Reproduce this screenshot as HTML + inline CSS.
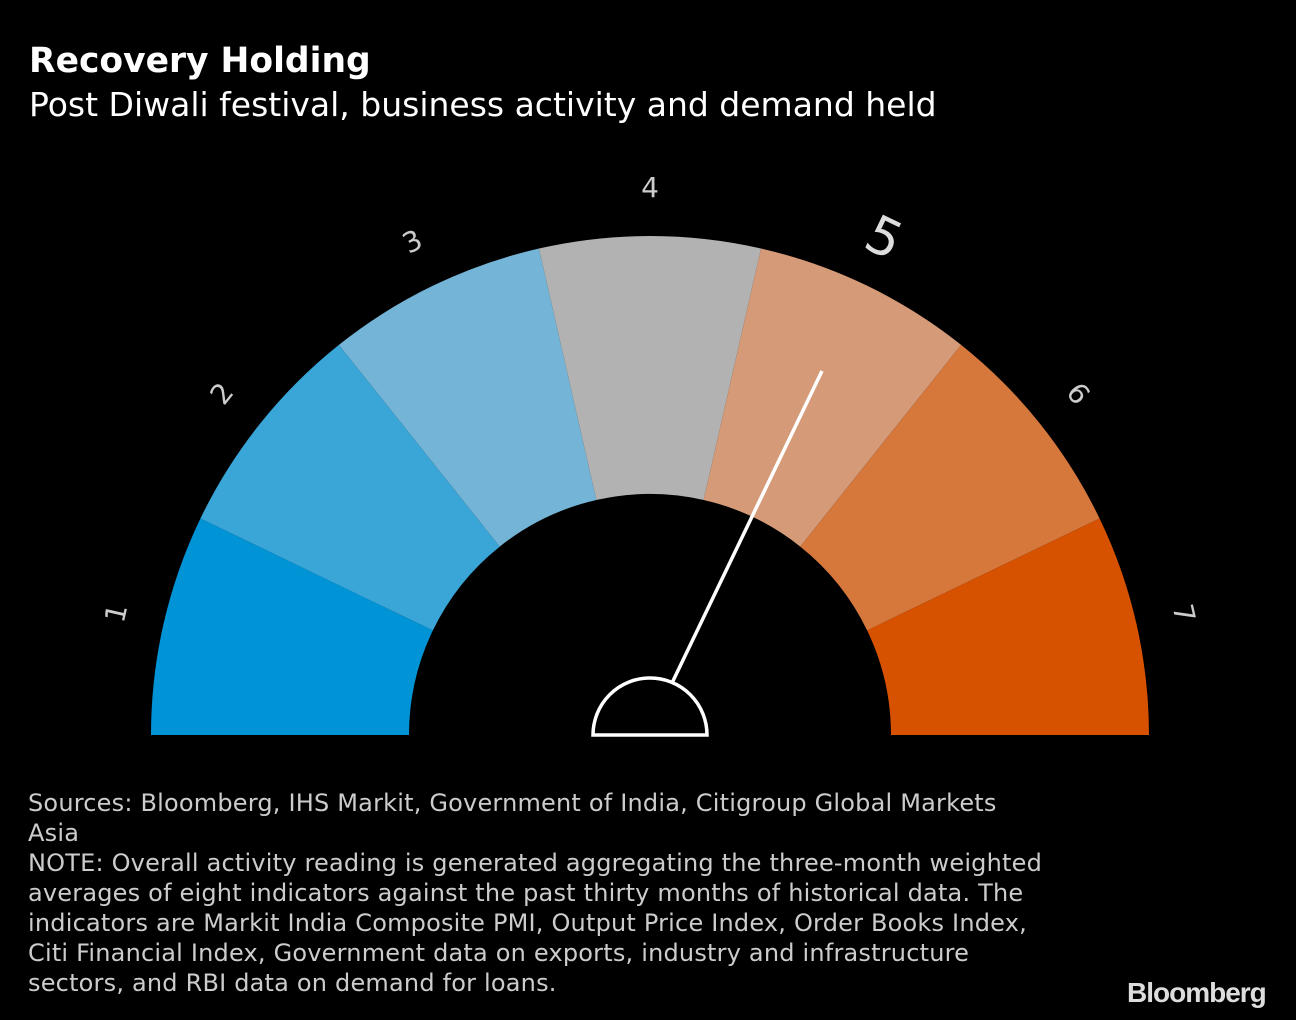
<!DOCTYPE html>
<html><head><meta charset="utf-8"><style>
html,body{margin:0;padding:0;background:#000;}
body{width:1296px;height:1020px;position:relative;overflow:hidden;font-family:"DejaVu Sans","Liberation Sans",sans-serif;color:#fff;}
.t{position:absolute;left:29px;top:41px;font-size:34.5px;font-weight:bold;font-family:"DejaVu Sans",sans-serif;}
.s{position:absolute;left:29px;top:85px;font-size:33px;}
.f{position:absolute;left:28px;top:788px;font-size:24px;line-height:30px;color:#ccc;white-space:nowrap;letter-spacing:0.2px;}
.b{position:absolute;left:1127px;top:977px;font-size:28px;font-weight:bold;color:#ddd;font-family:"Liberation Sans",sans-serif;letter-spacing:-1px;}
</style></head><body>
<div class="t">Recovery Holding</div>
<div class="s">Post Diwali festival, business activity and demand held</div>
<svg width="1296" height="1020" style="position:absolute;left:0;top:0">
<defs><path id="seg" d="M151,735 A499,499 0 0 1 200.42,518.49 L432.87,630.43 A241,241 0 0 0 409,735 Z"/></defs>
<use href="#seg" fill="#0093d6"/>
<use href="#seg" fill="#3aa5d7" transform="rotate(25.714 650 735)"/>
<use href="#seg" fill="#74b4d6" transform="rotate(51.429 650 735)"/>
<use href="#seg" fill="#b2b2b2" transform="rotate(77.143 650 735)"/>
<use href="#seg" fill="#d59a77" transform="rotate(102.857 650 735)"/>
<use href="#seg" fill="#d6773c" transform="rotate(128.571 650 735)"/>
<use href="#seg" fill="#d65200" transform="rotate(154.286 650 735)"/>
<g fill="#ccc" font-size="28" text-anchor="middle">
<text x="650" y="197" transform="rotate(-77.143 650 735)">1</text>
<text x="650" y="197" transform="rotate(-51.429 650 735)">2</text>
<text x="650" y="197" transform="rotate(-25.714 650 735)">3</text>
<text x="650" y="197">4</text>
<text x="645" y="203" font-size="52" fill="#ddd" transform="rotate(25.714 650 735)">5</text>
<text x="650" y="197" transform="rotate(51.429 650 735)">6</text>
<text x="650" y="197" transform="rotate(77.143 650 735)">7</text>
</g>
<line x1="672" y1="683" x2="822" y2="371" stroke="#fff" stroke-width="3.5"/>
<path d="M593,735 A57,57 0 0 1 707,735 Z" fill="#000" stroke="#fff" stroke-width="3.5"/>
</svg>
<div class="f">Sources: Bloomberg, IHS Markit, Government of India, Citigroup Global Markets<br>Asia<br>NOTE: Overall activity reading is generated aggregating the three-month weighted<br>averages of eight indicators against the past thirty months of historical data. The<br>indicators are Markit India Composite PMI, Output Price Index, Order Books Index,<br>Citi Financial Index, Government data on exports, industry and infrastructure<br>sectors, and RBI data on demand for loans.</div>
<div class="b">Bloomberg</div>
</body></html>
